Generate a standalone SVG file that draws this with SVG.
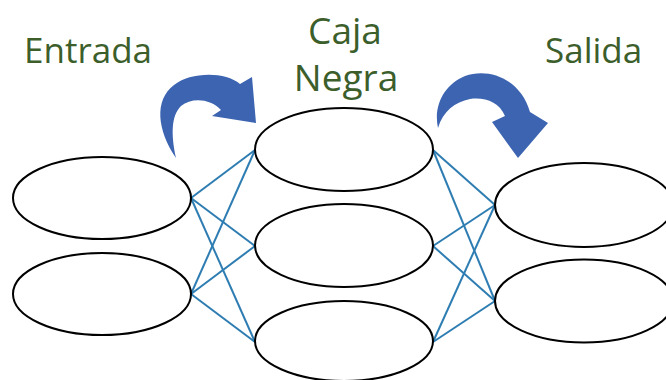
<svg xmlns="http://www.w3.org/2000/svg" width="666" height="380" viewBox="0 0 666 380">
<style>
.node{fill:#ffffff;stroke:#000000;stroke-width:2}
.lbl{font-family:"Open Sans","Noto Sans",sans-serif;font-size:35px;fill:#3B5E2B}
.big{font-size:37px}
.conn line{stroke:#2E7DB2;stroke-width:2}
.arrow{fill:#3C64B1}
</style>
<rect width="666" height="380" fill="#ffffff"/>
<g id="labels">
<text class="lbl" x="24" y="63">Entrada</text>
<text class="lbl big" x="345" y="44" text-anchor="middle">Caja</text>
<text class="lbl big" x="346" y="91" text-anchor="middle">Negra</text>
<text class="lbl" x="545" y="63">Salida</text>
</g>
<g id="arrows">
<path class="arrow" d="M176,158 C157,130 154,100 174,85 C190,72 225,71 240,84 L252,77 L256,123 L212,116 L221,110 C211,99 192,97 181,106 C171,116 171,135 176,158 Z"/>
<path class="arrow" d="M438,128 C433,105 445,84 465,76 C490,67 521,80 530,112 L548,123 L518,158 L492,122 L505,116 C499,102 485,97 470,99 C455,102 443,111 438,128 Z"/>
</g>
<g id="connectors" class="conn">
<line x1="191" y1="198" x2="255" y2="150"/>
<line x1="191" y1="198" x2="255" y2="246"/>
<line x1="191" y1="198" x2="255" y2="342"/>
<line x1="191" y1="294" x2="255" y2="150"/>
<line x1="191" y1="294" x2="255" y2="246"/>
<line x1="191" y1="294" x2="255" y2="342"/>
<line x1="433" y1="150" x2="495" y2="205"/>
<line x1="433" y1="150" x2="495" y2="301"/>
<line x1="433" y1="246" x2="495" y2="205"/>
<line x1="433" y1="246" x2="495" y2="301"/>
<line x1="433" y1="342" x2="495" y2="205"/>
<line x1="433" y1="342" x2="495" y2="301"/>
</g>
<g id="in1"><ellipse class="node" cx="102" cy="198" rx="89" ry="41"/></g>
<g id="in2"><ellipse class="node" cx="102" cy="294" rx="89" ry="41"/></g>
<g id="box1"><ellipse class="node" cx="344" cy="149.5" rx="89" ry="41.5"/></g>
<g id="box2"><ellipse class="node" cx="344" cy="245.5" rx="89" ry="41.5"/></g>
<g id="box3"><ellipse class="node" cx="344" cy="341" rx="89" ry="40"/></g>
<g id="out1"><ellipse class="node" cx="584" cy="205" rx="89" ry="42"/></g>
<g id="out2"><ellipse class="node" cx="584" cy="301" rx="89" ry="41.5"/></g>
</svg>
